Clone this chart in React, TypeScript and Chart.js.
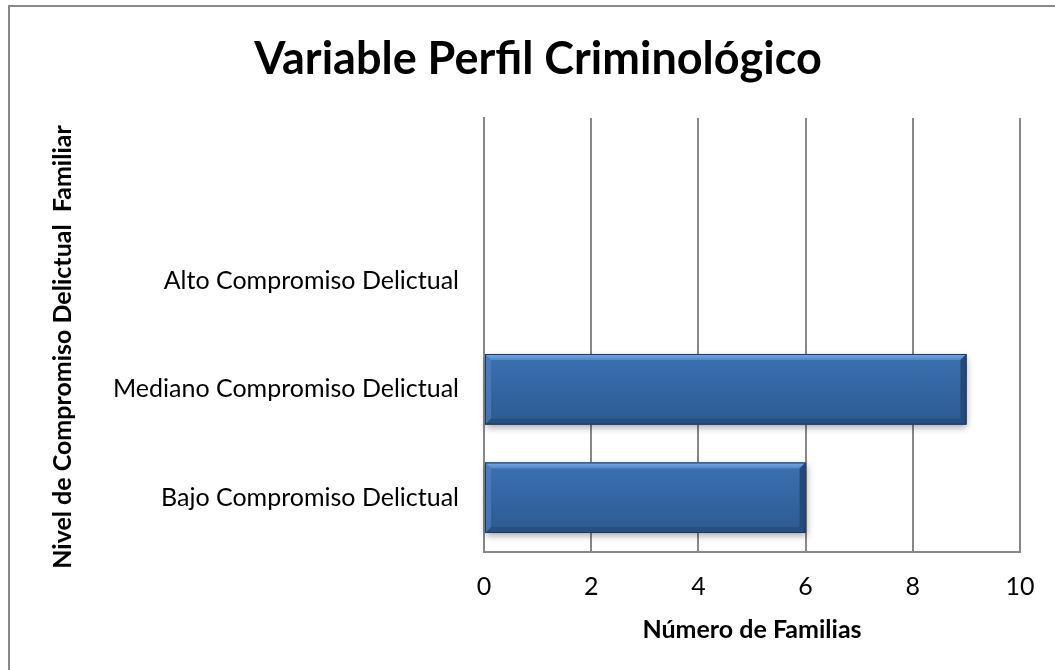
import React, { useEffect, useRef } from "react";
import { Chart, registerables } from "chart.js";

Chart.register(...registerables);

const categories = [
  "Bajo Compromiso Delictual",
  "Mediano Compromiso Delictual",
  "Alto Compromiso Delictual",
  "",
];
const familias: (number | null)[] = [6, 9, 0, null];
const xMin = 0;
const xMax = 10;
const xStep = 2;
const chartTitle = "Variable Perfil Criminológico";
const xTitle = "Número de Familias";
const yTitle = "Nivel de Compromiso Delictual  Familiar";

const FONT = "Lato, 'Open Sans', sans-serif";
const GRID = "#878787";

const bevelPlugin = {
  id: "bevelBars",
  beforeDatasetsDraw(chart: any) {
    const ctx = chart.ctx;
    const meta = chart.getDatasetMeta(0);
    ctx.save();
    meta.data.forEach((bar: any) => {
      const p = bar.getProps(["x", "y", "base", "height"], true);
      const left = Math.min(p.x, p.base);
      const right = Math.max(p.x, p.base);
      if (right - left < 2) return;
      const top = p.y - p.height / 2;
      ctx.shadowColor = "rgba(0,0,0,0.35)";
      ctx.shadowBlur = 7;
      ctx.shadowOffsetX = 1;
      ctx.shadowOffsetY = 3;
      ctx.fillStyle = "#2f5e98";
      ctx.fillRect(left, top, right - left, p.height);
    });
    ctx.restore();
  },
  afterDatasetsDraw(chart: any) {
    const ctx = chart.ctx;
    const meta = chart.getDatasetMeta(0);
    ctx.save();
    meta.data.forEach((bar: any) => {
      const p = bar.getProps(["x", "y", "base", "height"], true);
      const left = Math.min(p.x, p.base);
      const right = Math.max(p.x, p.base);
      if (right - left < 2) return;
      const top = p.y - p.height / 2;
      const bottom = p.y + p.height / 2;
      const b = 6;
      const g = ctx.createLinearGradient(0, top, 0, bottom);
      g.addColorStop(0, "#3b71b1");
      g.addColorStop(1, "#2d5a92");
      ctx.fillStyle = g;
      ctx.fillRect(left, top, right - left, bottom - top);
      const gt = ctx.createLinearGradient(0, top, 0, top + b);
      gt.addColorStop(0, "#78ace6");
      gt.addColorStop(1, "#4f86c8");
      ctx.fillStyle = gt;
      ctx.beginPath();
      ctx.moveTo(left, top);
      ctx.lineTo(right, top);
      ctx.lineTo(right - b, top + b);
      ctx.lineTo(left + b, top + b);
      ctx.closePath();
      ctx.fill();
      ctx.fillStyle = "#27507f";
      ctx.beginPath();
      ctx.moveTo(left, bottom);
      ctx.lineTo(right, bottom);
      ctx.lineTo(right - b, bottom - b);
      ctx.lineTo(left + b, bottom - b);
      ctx.closePath();
      ctx.fill();
      ctx.fillStyle = "rgba(90,140,205,0.5)";
      ctx.beginPath();
      ctx.moveTo(left, top);
      ctx.lineTo(left + b, top + b);
      ctx.lineTo(left + b, bottom - b);
      ctx.lineTo(left, bottom);
      ctx.closePath();
      ctx.fill();
      ctx.fillStyle = "#254a78";
      ctx.beginPath();
      ctx.moveTo(right, top);
      ctx.lineTo(right - b, top + b);
      ctx.lineTo(right - b, bottom - b);
      ctx.lineTo(right, bottom);
      ctx.closePath();
      ctx.fill();
      ctx.strokeStyle = "#1d3a62";
      ctx.lineWidth = 1;
      ctx.strokeRect(left + 0.5, top + 0.5, right - left - 1, bottom - top - 1);
    });
    ctx.restore();
  },
};

const yTitlePlugin = {
  id: "yTitleOffset",
  afterDraw(chart: any) {
    const ctx = chart.ctx;
    const area = chart.chartArea;
    const ys = chart.scales.y;
    ctx.save();
    ctx.font = `bold 25px ${FONT}`;
    ctx.fillStyle = "#000";
    ctx.textAlign = "center";
    ctx.textBaseline = "middle";
    ctx.translate(ys.left + 7, (area.top + area.bottom) / 2 + 12);
    ctx.rotate(-Math.PI / 2);
    ctx.fillText(yTitle, 0, 0);
    ctx.restore();
  },
};

export default function App() {
  const ref = useRef<HTMLCanvasElement | null>(null);

  useEffect(() => {
    if (!ref.current) return;
    const chart = new Chart(ref.current, {
      type: "bar",
      data: {
        labels: categories,
        datasets: [
          {
            label: xTitle,
            data: familias,
            backgroundColor: "#3567a3",
            borderWidth: 0,
            barPercentage: 0.65,
            categoryPercentage: 1,
          },
        ],
      },
      plugins: [bevelPlugin, yTitlePlugin],
      options: {
        indexAxis: "y",
        responsive: false,
        animation: false,
        layout: { padding: { left: 56, right: 35, top: 0, bottom: 0 } },
        plugins: {
          legend: { display: false },
          tooltip: { enabled: false },
          title: {
            display: true,
            text: chartTitle,
            color: "#000",
            font: { family: FONT, size: 45, weight: "bold", lineHeight: 1.2 },
            padding: { top: 32, bottom: 32 },
          },
        },
        scales: {
          x: {
            min: xMin,
            max: xMax,
            ticks: {
              stepSize: xStep,
              color: "#000",
              padding: 20,
              font: { family: FONT, size: 25 },
            },
            grid: {
              display: true,
              drawTicks: false,
              color: GRID,
              lineWidth: 2,
            },
            border: { display: true, color: GRID, width: 2 },
            title: {
              display: true,
              text: xTitle,
              color: "#000",
              font: { family: FONT, size: 25, weight: "bold", lineHeight: 1.2 },
              padding: { top: 0, bottom: 25 },
            },
            afterFit: (scale: any) => {
              scale.height = 118;
            },
          },
          y: {
            reverse: true,
            ticks: {
              color: "#000",
              padding: 17,
              font: { family: FONT, size: 25 },
            },
            grid: { display: false },
            border: { display: true, color: GRID, width: 2 },
            title: { display: false },
            afterFit: (scale: any) => {
              scale.width = 428;
            },
          },
        },
      },
    });
    return () => chart.destroy();
  }, []);

  return (
    <div
      style={{
        position: "fixed",
        left: 0,
        top: 0,
        width: 1055,
        height: 670,
        overflow: "hidden",
        background: "#fff",
      }}
    >
      <div
        style={{
          position: "absolute",
          left: 8,
          top: 5,
          width: 1100,
          height: 700,
          border: "2px solid #878787",
          boxSizing: "border-box",
        }}
      />
      <canvas
        ref={ref}
        width={1055}
        height={670}
        style={{ position: "absolute", left: 0, top: 0, width: 1055, height: 670 }}
      />
    </div>
  );
}
